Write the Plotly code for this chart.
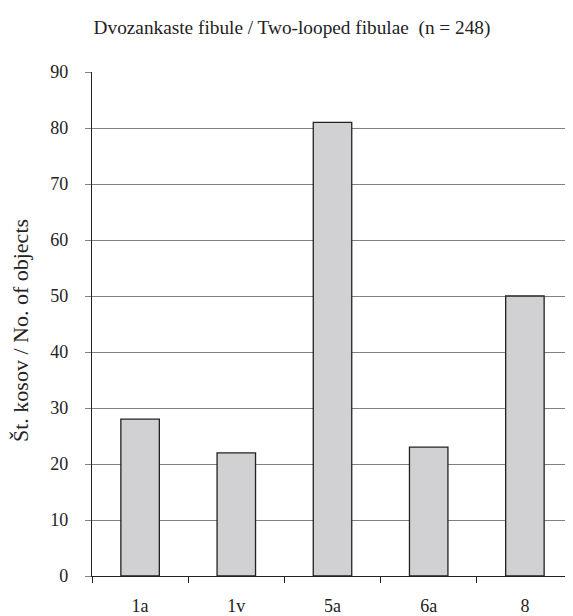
import plotly.graph_objects as go

categories = ["1a", "1v", "5a", "6a", "8"]
counts = [28, 22, 81, 23, 50]
y_ticks = [0, 10, 20, 30, 40, 50, 60, 70, 80, 90]

FONT = "Liberation Serif, Times New Roman, serif"

# The page body has an 8px default margin, so the figure is sized to fit.
W, H = 565, 608
L, T, B = 84, 64, 40
PW, PH = W - L, H - T - B

fig = go.Figure(go.Bar(
    x=categories, y=counts, width=0.4,
    marker=dict(color="#d1d1d4", line=dict(color="#222222", width=1.3)),
))

fig.update_layout(
    width=W, height=H,
    margin=dict(l=L, r=0, t=T, b=B, autoexpand=False),
    paper_bgcolor="white", plot_bgcolor="white",
    font=dict(family=FONT, size=18, color="#222222"),
    showlegend=False,
    title=dict(text="Dvozankaste fibule / Two-looped fibulae  (n = 248)",
               x=(292 - 8) / W, xref="container", xanchor="center",
               y=1 - 19 / H, yref="container", yanchor="middle",
               font=dict(family=FONT, size=19.3, color="#222222")),
    annotations=[dict(
        text="Št. kosov / No. of objects", textangle=-90,
        xref="paper", yref="paper",
        x=(20 - 8 - L) / PW, y=(568 - (331 - 8)) / PH,
        xanchor="center", yanchor="middle", showarrow=False,
        font=dict(family=FONT, size=22, color="#222222"),
    )],
)

fig.update_xaxes(
    type="category", range=[-0.5, 4.5],
    showline=True, linecolor="#222222", linewidth=1.3,
    ticks="outside", tickson="boundaries", ticklen=6, tickcolor="#222222",
    showgrid=False, ticklabelstandoff=13,
    tickfont=dict(family=FONT, size=18, color="#222222"),
)
fig.update_yaxes(
    range=[0, 90], tickvals=y_ticks,
    showline=True, linecolor="#222222", linewidth=1.3,
    ticks="outside", ticklen=6, tickcolor="#808080",
    showgrid=True, gridcolor="#808080", gridwidth=1.3,
    zeroline=False, ticklabelstandoff=13,
    tickfont=dict(family=FONT, size=18, color="#222222"),
)

fig.write_html("out.html")
